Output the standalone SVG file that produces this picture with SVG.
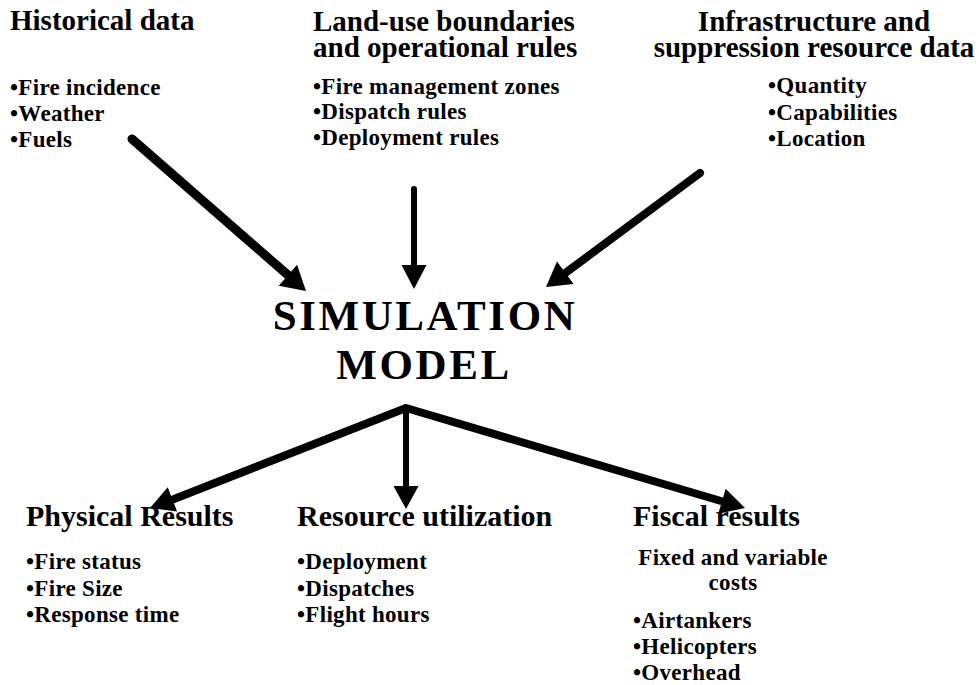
<svg xmlns="http://www.w3.org/2000/svg" width="979" height="685" viewBox="0 0 979 685">
<style>
text{font-family:"Liberation Serif","Times New Roman",serif;font-weight:bold;fill:#000}
.h{font-size:29px}
.hb{font-size:30px}
.b{font-size:23px;letter-spacing:0.3px}
.sim{font-size:43px;letter-spacing:2.6px}
.c{stroke:#000;fill:none;stroke-linecap:round;stroke-linejoin:round}
.ah{fill:#000;stroke:none}
</style>
<rect width="979" height="685" fill="#fff"/>
<g id="historical">
<text class="h" x="10" y="30">Historical data</text>
<text class="b" x="10" y="95">•Fire incidence</text>
<text class="b" x="10" y="121">•Weather</text>
<text class="b" x="10" y="147">•Fuels</text>
</g>
<g id="landuse">
<text class="h" x="313" y="31">Land-use boundaries</text>
<text class="h" x="313" y="57">and operational rules</text>
<text class="b" x="313" y="94">•Fire management zones</text>
<text class="b" x="313" y="119">•Dispatch rules</text>
<text class="b" x="313" y="145">•Deployment rules</text>
</g>
<g id="infrastructure">
<text class="h" x="814" y="31" text-anchor="middle">Infrastructure and</text>
<text class="h" x="814" y="57" text-anchor="middle">suppression resource data</text>
<text class="b" x="768" y="93">•Quantity</text>
<text class="b" x="768" y="120">•Capabilities</text>
<text class="b" x="768" y="146">•Location</text>
</g>
<g id="simulation">
<text class="sim" x="425" y="330" text-anchor="middle">SIMULATION</text>
<text class="sim" x="424" y="379" text-anchor="middle">MODEL</text>
</g>
<g id="physical">
<text class="hb" x="26" y="526">Physical Results</text>
<text class="b" x="26" y="569">•Fire status</text>
<text class="b" x="26" y="596">•Fire Size</text>
<text class="b" x="26" y="622">•Response time</text>
</g>
<g id="resource">
<text class="hb" x="297" y="526">Resource utilization</text>
<text class="b" x="297" y="569">•Deployment</text>
<text class="b" x="297" y="596">•Dispatches</text>
<text class="b" x="297" y="622">•Flight hours</text>
</g>
<g id="fiscal">
<text class="hb" x="633" y="526">Fiscal results</text>
<text class="b" x="733" y="565" text-anchor="middle">Fixed and variable</text>
<text class="b" x="733" y="590" text-anchor="middle">costs</text>
<text class="b" x="633" y="628">•Airtankers</text>
<text class="b" x="633" y="654">•Helicopters</text>
<text class="b" x="633" y="680">•Overhead</text>
</g>
<g id="connectors">
<line class="c" x1="132" y1="139" x2="289" y2="276" stroke-width="9"/>
<polygon class="ah" points="306,291 278.7,285.7 297.1,264.7"/>
<line class="c" x1="414" y1="189" x2="414" y2="268" stroke-width="6" stroke-linecap="butt"/>
<polygon class="ah" points="401.5,265 426.5,265 414,289"/>
<line class="c" x1="700" y1="173" x2="564" y2="274" stroke-width="8"/>
<polygon class="ah" points="546,287 573.6,284 557,261.4"/>
<polyline class="c" points="174,499 406,408 721,501" stroke-width="8"/>
<polygon class="ah" points="150,508 177.1,511.4 167.7,487.2"/>
<line class="c" x1="406" y1="408" x2="406" y2="489" stroke-width="6" stroke-linecap="butt"/>
<polygon class="ah" points="393.5,486 418.5,486 406,509"/>
<polygon class="ah" points="745,508 718.3,513.7 725.7,488.7"/>
</g>
</svg>
